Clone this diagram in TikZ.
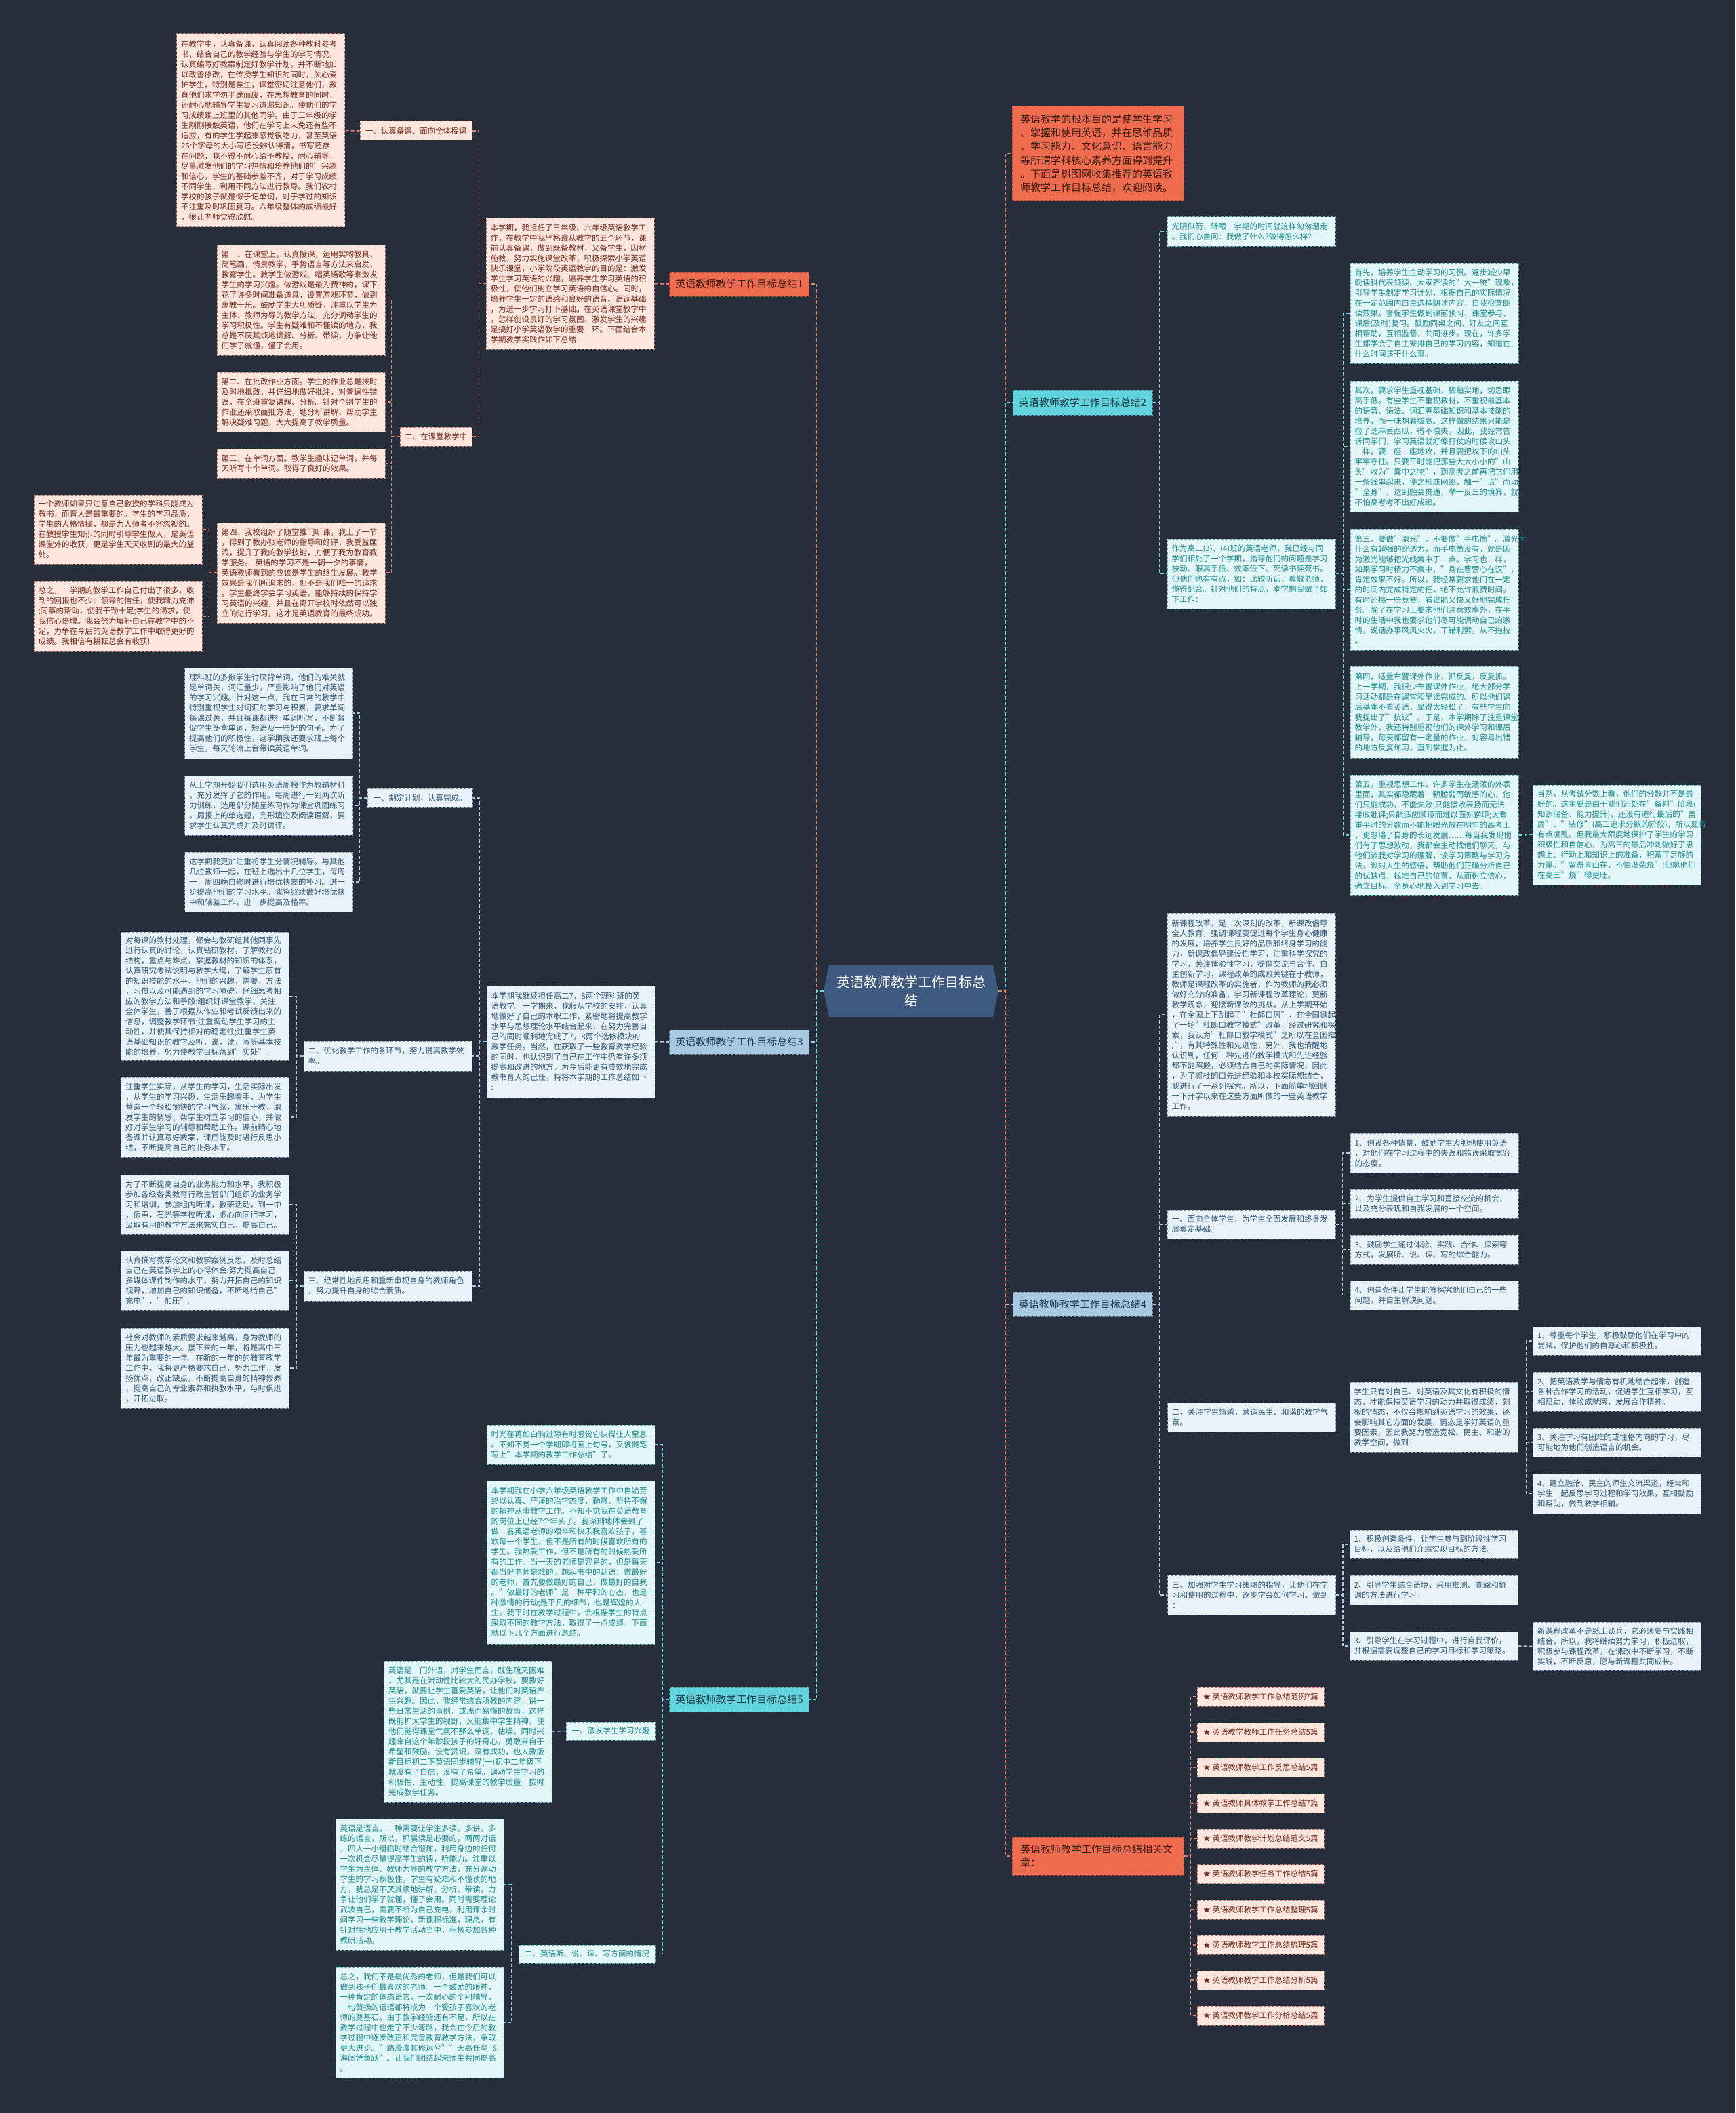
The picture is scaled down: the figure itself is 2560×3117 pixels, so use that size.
\documentclass[tikz,border=0pt]{standalone}
\usepackage{fontspec}
\setmainfont{Noto Sans CJK SC}
\definecolor{bgc}{HTML}{262D3B}
\definecolor{coral}{HTML}{EF6D4E}
\definecolor{coraltext}{HTML}{3A1A12}
\definecolor{pinkfill}{HTML}{FDE6DD}
\definecolor{pinkdraw}{HTML}{B8786A}
\definecolor{pinktext}{HTML}{762C1E}
\definecolor{bluelab}{HTML}{A9C8E2}
\definecolor{bluelabtext}{HTML}{1F3A52}
\definecolor{bluefill}{HTML}{EAF2F9}
\definecolor{bluedraw}{HTML}{7E9AB2}
\definecolor{bluetext}{HTML}{2F5878}
\definecolor{cyanlab}{HTML}{62D4DE}
\definecolor{cyanlabtext}{HTML}{1C3C44}
\definecolor{cyanfill}{HTML}{E3F7F8}
\definecolor{cyandraw}{HTML}{6AAEB6}
\definecolor{cyantext}{HTML}{1C8890}
\definecolor{rootfill}{HTML}{3E5A80}
\definecolor{lcoralc}{HTML}{E2806A}
\definecolor{lbluec}{HTML}{A9C8E2}
\definecolor{lcyanc}{HTML}{6FD6E0}
\begin{document}
\begin{tikzpicture}[x=1pt,y=-1pt,
  base/.style={draw, line width=1pt, dash pattern=on 4pt off 2pt, inner xsep=6.5pt, inner ysep=6pt, font=\fontsize{11.5pt}{15pt}\selectfont},
  box/.style={base, align=left, text width=235pt},
  tag/.style={base, align=center},
  pbox/.style={box, fill=pinkfill, draw=pinkdraw, text=pinktext},
  ptag/.style={tag, fill=pinkfill, draw=pinkdraw, text=pinktext},
  bbox/.style={box, fill=bluefill, draw=bluedraw, text=bluetext},
  btag/.style={tag, fill=bluefill, draw=bluedraw, text=bluetext},
  cbox/.style={box, fill=cyanfill, draw=cyandraw, text=cyantext},
  ctag/.style={tag, fill=cyanfill, draw=cyandraw, text=cyantext},
  branch/.style={draw, line width=1pt, dash pattern=on 4pt off 2pt, align=center, minimum width=206pt, minimum height=36pt, inner sep=4pt, font=\fontsize{15pt}{20pt}\selectfont},
  brcoral/.style={branch, fill=coral, draw=coral!70!black, text=coraltext},
  brblue/.style={branch, fill=bluelab, draw=bluelab!70!black, text=bluelabtext},
  brcyan/.style={branch, fill=cyanlab, draw=cyanlab!70!black, text=cyanlabtext},
  bigcoral/.style={draw=coral!70!black, line width=1pt, dash pattern=on 4pt off 2pt, fill=coral, text=coraltext, align=left, text width=229pt, inner xsep=12pt, inner ysep=8pt, font=\fontsize{15pt}{20.3pt}\selectfont},
  rootnode/.style={align=center, text=white, inner sep=0pt, minimum width=258pt, minimum height=77pt, font=\fontsize{20pt}{27pt}\selectfont},
  lk/.style={line width=1.6pt, dash pattern=on 5pt off 3pt},
  lcoral/.style={lk, draw=lcoralc},
  lblue/.style={lk, draw=lbluec},
  lcyan/.style={lk, draw=lcyanc}
]
\fill[bgc] (0,0) rectangle (2560,3117);
\useasboundingbox (0,0) rectangle (2560,3117);

% ---------- root ----------
\fill[rootfill] (1215,1462) -- (1223,1424) -- (1465,1424) -- (1473,1462) -- (1465,1500) -- (1223,1500) -- cycle;
\node[rootnode] (root) at (1344,1462) {英语教师教学工作目标总\\结};

% ---------- branch labels ----------
\node[brcoral] (b1) at (1090.5,419) {英语教师教学工作目标总结1};
\node[brblue] (b3) at (1090.5,1537) {英语教师教学工作目标总结3};
\node[brcyan] (b5) at (1090.5,2507) {英语教师教学工作目标总结5};
\node[brcyan] (b2) at (1597,594) {英语教师教学工作目标总结2};
\node[brblue] (b4) at (1597,1924) {英语教师教学工作目标总结4};
\node[bigcoral, minimum height=139pt] (intro) at (1619.5,226.5) {英语教学的根本目的是使学生学习\\、掌握和使用英语，并在思维品质\\、学习能力、文化意识、语言能力\\等所谓学科核心素养方面得到提升\\。下面是树图网收集推荐的英语教\\师教学工作目标总结，欢迎阅读。};
\node[bigcoral, minimum height=56pt] (rel) at (1619.5,2738) {英语教师教学工作目标总结相关文\\章：};

% ---------- branch 1 ----------
\node[pbox, minimum height=193pt] (b1main) at (841,418.5) {本学期，我担任了三年级、六年级英语教学工\\作，在教学中我严格遵从教学的五个环节，课\\前认真备课，做到既备教材，又备学生，因材\\施教，努力实施课堂改革，积极探索小学英语\\快乐课堂，小学阶段英语教学的目的是：激发\\学生学习英语的兴趣，培养学生学习英语的积\\极性，使他们树立学习英语的自信心。同时，\\培养学生一定的语感和良好的语音、语调基础\\，为进一步学习打下基础。在英语课堂教学中\\，怎样创设良好的学习氛围、激发学生的兴趣\\是搞好小学英语教学的重要一环。下面结合本\\学期教学实践作如下总结：};
\node[ptag, minimum width=165pt, minimum height=28pt] (b1l1) at (613.5,193) {一、认真备课、面向全体授课};
\node[pbox, minimum height=285pt] (b1t1) at (384.5,192.5) {在教学中，认真备课，认真阅读各种教科参考\\书，结合自己的教学经验与学生的学习情况，\\认真编写好教案制定好教学计划，并不断地加\\以改善修改，在传授学生知识的同时，关心爱\\护学生，特别是差生，课堂密切注意他们，教\\育他们求学勿半途而废，在思想教育的同时，\\还耐心地辅导学生复习遗漏知识。使他们的学\\习成绩跟上班里的其他同学。由于三年级的学\\生刚刚接触英语，他们在学习上未免还有些不\\适应，有的学生学起来感觉很吃力，甚至英语\\26个字母的大小写还没辨认得清，书写还存\\在问题，我不得不耐心给予教授，耐心辅导，\\尽量激发他们的学习热情和培养他们的'兴趣\\和信心，学生的基础参差不齐，对于学习成绩\\不同学生，利用不同方法进行教导。我们农村\\学校的孩子就是懒于记单词，对于学过的知识\\不注重及时巩固复习。六年级整体的成绩最好\\，很让老师觉得欣慰。};
\node[ptag, minimum width=106pt, minimum height=28pt] (b1l2) at (643,644) {二、在课堂教学中};
\node[pbox, minimum height=163pt] (b1d1) at (444,442.5) {第一、在课堂上，认真授课，运用实物教具、\\简笔画，情景教学、手势语言等方法来启发、\\教育学生。教学生做游戏、唱英语歌等来激发\\学生的学习兴趣。做游戏是最为费神的，课下\\花了许多时间准备道具，设置游戏环节，做到\\寓教于乐。鼓励学生大胆质疑，注重以学生为\\主体、教师为导的教学方法，充分调动学生的\\学习积极性。学生有疑难和不懂读的地方，我\\总是不厌其烦地讲解、分析、带读，力争让他\\们学了就懂，懂了会用。};
\node[pbox, minimum height=88pt] (b1d2) at (444,593) {第二、在批改作业方面。学生的作业总是按时\\及时地批改，并详细地做好批注，对普遍性错\\误，在全班重复讲解、分析。针对个别学生的\\作业还采取面批方法，地分析讲解、帮助学生\\解决疑难习题，大大提高了教学质量。};
\node[pbox, minimum height=43pt] (b1d3) at (444,683.5) {第三，在单词方面。教学生趣味记单词，并每\\天听写十个单词。取得了良好的效果。};
\node[pbox, minimum height=148pt] (b1d4) at (444,845) {第四、我校组织了随堂推门听课，我上了一节\\，得到了教办张老师的指导和好评，我受益匪\\浅，提升了我的教学技能，方便了我为教育教\\学服务。 英语的学习不是一朝一夕的事情，\\英语教师看到的应该是学生的终生发展。教学\\效果是我们所追求的，但不是我们唯一的追求\\。学生最终学会学习英语，能够持续的保持学\\习英语的兴趣，并且在离开学校时依然可以独\\立的进行学习，这才是英语教育的最终成功。};
\node[pbox, minimum height=102pt] (b1e1) at (174,781) {一个教师如果只注意自己教授的学科只能成为\\教书，而育人是最重要的。学生的学习品质，\\学生的人格情操，都是为人师者不容忽视的。\\在教授学生知识的同时引导学生做人，是英语\\课堂外的收获，更是学生天天收到的最大的益\\处。};
\node[pbox, minimum height=104pt] (b1e2) at (174,909) {总之，一学期的教学工作自己付出了很多，收\\到的回报也不少：领导的信任，使我精力充沛\\;同事的帮助，使我干劲十足;学生的渴求，使\\我信心倍增。我会努力填补自己在教学中的不\\足，力争在今后的英语教学工作中取得更好的\\成绩。我相信有耕耘总会有收获!};

% ---------- branch 3 ----------
\node[bbox, minimum height=165pt] (b3main) at (842,1536.5) {本学期我继续担任高二7，8两个理科班的英\\语教学。一学期来，我服从学校的安排，认真\\地做好了自己的本职工作，紧密地将提高教学\\水平与思想理论水平结合起来，在努力完善自\\己的同时顺利地完成了7，8两个选修模块的\\教学任务。当然，在获取了一些教育教学经验\\的同时，也认识到了自己在工作中仍有许多须\\提高和改进的地方。为今后能更有成效地完成\\教书育人的己任，特将本学期的工作总结如下\\:};
\node[btag, minimum width=155pt, minimum height=28pt] (b3l1) at (619.5,1177) {一、制定计划，认真完成。};
\node[bbox, minimum height=134pt] (b3a) at (396.5,1052) {理科班的多数学生讨厌背单词，他们的难关就\\是单词关，词汇量少，严重影响了他们对英语\\的学习兴趣。针对这一点，我在日常的教学中\\特别重视学生对词汇的学习与积累，要求单词\\每课过关，并且每课都进行单词听写，不断督\\促学生多背单词，短语及一些好的句子。为了\\提高他们的积极性，这学期我还要求班上每个\\学生，每天轮流上台带读英语单词。};
\node[bbox, minimum height=88pt] (b3b) at (396.5,1188) {从上学期开始我们选用英语周报作为教辅材料\\，充分发挥了它的作用。每周进行一到两次听\\力训练，选用部分随堂练习作为课堂巩固练习\\。周报上的单选题，完形填空及阅读理解，要\\求学生认真完成并及时讲评。};
\node[bbox, minimum height=88pt] (b3c) at (396.5,1301) {这学期我更加注重将学生分情况辅导。与其他\\几位教师一起，在班上选出十几位学生，每周\\一，周四晚自修时进行培优扶差的补习。进一\\步提高他们的学习水平。我将继续做好培优扶\\中和辅差工作，进一步提高及格率。};
\node[bbox, minimum height=44pt] (b3l2) at (572,1558) {二、优化教学工作的各环节，努力提高教学效\\率。};
\node[bbox, minimum height=189pt] (b3d) at (302.5,1469.5) {对每课的教材处理，都会与教研组其他同事先\\进行认真的讨论，认真钻研教材，了解教材的\\结构，重点与难点，掌握教材的知识的体系，\\认真研究考试说明与教学大纲，了解学生原有\\的知识技能的水平，他们的兴趣，需要，方法\\，习惯以及可能遇到的学习障碍，仔细思考相\\应的教学方法和手段;组织好课堂教学，关注\\全体学生，善于根据从作业和考试反馈出来的\\信息，调整教学环节;注重调动学生学习的主\\动性，并使其保持相对的稳定性;注重学生英\\语基础知识的教学及听，说，读，写等基本技\\能的培养，努力使教学目标落到"实处"。};
\node[bbox, minimum height=118pt] (b3e) at (302.5,1648) {注重学生实际，从学生的学习，生活实际出发\\，从学生的学习兴趣，生活乐趣着手，为学生\\营造一个轻松愉快的学习气氛，寓乐于教，激\\发学生的情感，帮学生树立学习的信心，并做\\好对学生学习的辅导和帮助工作。课前精心地\\备课并认真写好教案，课后能及时进行反思小\\结，不断提高自己的业务水平。};
\node[bbox, minimum height=44pt] (b3l3) at (572,1897) {三、经常性地反思和重新审视自身的教师角色\\，努力提升自身的综合素质。};
\node[bbox, minimum height=88pt] (b3f) at (302.5,1777) {为了不断提高自身的业务能力和水平，我积极\\参加各级各类教育行政主管部门组织的业务学\\习和培训，参加组内听课，教研活动，到一中\\，侨声，石光等学校听课，虚心向同行学习，\\汲取有用的教学方法来充实自己，提高自己。};
\node[bbox, minimum height=88pt] (b3g) at (302.5,1889) {认真撰写教学论文和教学案例反思，及时总结\\自己在英语教学上的心得体会;努力提高自己\\多媒体课件制作的水平，努力开拓自己的知识\\视野，增加自己的知识储备，不断地给自己"\\充电"，"加压"。};
\node[bbox, minimum height=118pt] (b3h) at (302.5,2018) {社会对教师的素质要求越来越高，身为教师的\\压力也越来越大。接下来的一年，将是高中三\\年最为重要的一年。在新的一年的的教育教学\\工作中，我将更严格要求自己，努力工作，发\\扬优点，改正缺点，不断提高自身的精神修养\\，提高自己的专业素养和执教水平，与时俱进\\，开拓进取。};

% ---------- branch 5 ----------
\node[cbox, minimum height=58pt] (b5a) at (842,2131) {时光荏苒如白驹过隙有时感觉它快得让人窒息\\。不知不觉一个学期即将画上句号，又该提笔\\写上"本学期的教学工作总结"了。};
\node[cbox, minimum height=241pt] (b5b) at (842,2304.5) {本学期我在小学六年级英语教学工作中自始至\\终以认真、严谨的治学态度，勤恳、坚持不懈\\的精神从事教学工作。不知不觉我在英语教育\\的岗位上已经7个年头了。我深刻地体会到了\\做一名英语老师的艰辛和快乐我喜欢孩子，喜\\欢每一个学生，但不是所有的时候喜欢所有的\\学生。我热爱工作，但不是所有的时候热爱所\\有的工作。当一天的老师是容易的，但是每天\\都当好老师是难的。想起书中的话语：做最好\\的老师，首先要做最好的自己，做最好的自我\\。"做最好的老师"是一种平和的心态，也是一\\种激情的行动;是平凡的细节，也是辉煌的人\\生。我平时在教学过程中，会根据学生的特点\\采取不同的教学方法，取得了一点成绩。下面\\就以下几个方面进行总结。};
\node[ctag, minimum width=132pt, minimum height=27pt] (b5l1) at (901,2553.5) {一、激发学生学习兴趣};
\node[cbox, minimum height=208pt] (b5c) at (690.5,2554) {英语是一门外语，对学生而言，既生疏又困难\\，尤其是在流动性比较大的民办学校，要教好\\英语，就要让学生喜爱英语，让他们对英语产\\生兴趣。因此，我经常结合所教的内容，讲一\\些日常生活的事例，或浅而易懂的故事，这样\\既能扩大学生的视野，又能集中学生精神，使\\他们觉得课堂气氛不那么单调、枯燥。同时兴\\趣来自这个年龄段孩子的好奇心，勇敢来自于\\希望和鼓励。没有赏识，没有成功，也人教版\\新目标初二下英语同步辅导(一)初中二年级下\\就没有了自信，没有了希望。调动学生学习的\\积极性、主动性，提高课堂的教学质量，按时\\完成教学任务。};
\node[ctag, minimum width=202pt, minimum height=27pt] (b5l2) at (866,2882.5) {二、英语听、说、读、写方面的情况};
\node[cbox, minimum height=194pt] (b5d) at (619,2780) {英语是语言。一种需要让学生多读，多讲，多\\练的语言，所以，抓晨读是必要的，两两对话\\，四人一小组临时结合锻炼，利用身边的任何\\一次机会尽量提高学生的读，听能力。注重以\\学生为主体、教师为导的教学方法，充分调动\\学生的学习积极性。学生有疑难和不懂读的地\\方，我总是不厌其烦地讲解、分析、带读，力\\争让他们学了就懂，懂了会用。同时需要理论\\武装自己，需要不断为自己充电，利用课余时\\间学习一些教学理论，新课程标准，理念，有\\针对性地应用于教学活动当中，积极参加各种\\教研活动。};
\node[cbox, minimum height=163pt] (b5e) at (619,2983.5) {总之，我们不是最优秀的老师，但是我们可以\\做到孩子们最喜欢的老师。一个鼓励的眼神，\\一种肯定的体态语言，一次耐心的个别辅导，\\一句赞扬的话语都将成为一个受孩子喜欢的老\\师的奠基石。由于教学经验还有不足，所以在\\教学过程中也走了不少弯路，我会在今后的教\\学过程中逐步改正和完善教育教学方法，争取\\更大进步。"路漫漫其修远兮""天高任鸟飞，\\海阔凭鱼跃"。让我们团结起来师生共同提高\\。};

% ---------- branch 2 ----------
\node[cbox, minimum height=43pt] (b2a) at (1846,341.5) {光阴似箭，转眼一学期的时间就这样匆匆溜走\\。我扪心自问：我做了什么?做得怎么样?};
\node[cbox, minimum height=103pt] (b2b) at (1846,846.5) {作为高二(3)、(4)班的英语老师，我已经与同\\学们相处了一个学期，指导他们的问题是学习\\被动、眼高手低、效率低下、死读书读死书。\\但他们也有有点，如：比较听话，尊敬老师，\\懂得配合。针对他们的特点，本学期我做了如\\下工作：};
\node[cbox, minimum height=148pt] (b2c) at (2116,462) {首先，培养学生主动学习的习惯。逐步减少早\\晚读科代表领读、大家齐读的"大一统"现象，\\引导学生制定学习计划，根据自己的实际情况\\在一定范围内自主选择朗读内容，自我检查朗\\读效果。督促学生做到课前预习、课堂参与、\\课后(及时)复习。鼓励同桌之间、好友之间互\\相帮助，互相监督，共同进步。现在，许多学\\生都学会了自主安排自己的学习内容，知道在\\什么时间该干什么事。};
\node[cbox, minimum height=193pt] (b2d) at (2116,658.5) {其次，要求学生重视基础，脚踏实地，切忌眼\\高手低。有些学生不重视教材，不重视最基本\\的语音、语法、词汇等基础知识和基本技能的\\培养，而一味想着拔高。这样做的结果只能是\\捡了芝麻丢西瓜，得不偿失。因此，我经常告\\诉同学们，学习英语就好像打仗的时候攻山头\\一样，要一座一座地攻，并且要把攻下的山头\\牢牢守住。只要平时能把那些大大小小的"山\\头"收为"囊中之物"，到高考之前再把它们用\\一条线串起来，使之形成网络，触一"点"而动\\"全身"，达到融会贯通，举一反三的境界，就\\不怕高考考不出好成绩。};
\node[cbox, minimum height=178pt] (b2e) at (2116,870) {第三，要做"激光"，不要做"手电筒"。激光为\\什么有超强的穿透力，而手电筒没有，就是因\\为激光能够把光线集中于一点。学习也一样，\\如果学习时精力不集中，"身在曹营心在汉"，\\肯定效果不好。所以，我经常要求他们在一定\\的时间内完成特定的任，绝不允许浪费时间。\\有时还搞一些竞赛，看谁能又快又好地完成任\\务。除了在学习上要求他们注意效率外，在平\\时的生活中我也要求他们尽可能调动自己的激\\情，说话办事风风火火，干错利索，从不拖拉\\。};
\node[cbox, minimum height=135pt] (b2f) at (2116,1050.5) {第四，适量布置课外作业，抓反复，反复抓。\\上一学期，我很少布置课外作业，绝大部分学\\习活动都是在课堂和早读完成的。所以他们课\\后基本不看英语，显得太轻松了，有些学生向\\我提出了"抗议"。于是，本学期除了注重课堂\\教学外，我还特别重视他们的课外学习和课后\\辅导，每天都留有一定量的作业，对容易出错\\的地方反复练习，直到掌握为止。};
\node[cbox, minimum height=178pt] (b2g) at (2116,1232) {第五，重视思想工作。许多学生在活泼的外表\\里面，其实都隐藏着一颗脆弱而敏感的心，他\\们只能成功，不能失败;只能接收表扬而无法\\接收批评;只能适应顺境而难以面对逆境;太看\\重平时的分数而不能把眼光放在明年的高考上\\，更忽略了自身的长远发展……每当我发现他\\们有了思想波动，我都会主动找他们聊天，与\\他们谈我对学习的理解，谈学习策略与学习方\\法，谈对人生的感悟，帮助他们正确分析自己\\的优缺点，找准自己的位置，从而树立信心，\\确立目标，全身心地投入到学习中去。};
\node[cbox, minimum height=147pt] (b2h) at (2385.5,1231.5) {当然，从考试分数上看，他们的分数并不是最\\好的。这主要是由于我们还处在"备料"阶段(\\知识储备、能力提升)，还没有进行最后的"盖\\房"、"装修"(高三追求分数的阶段)，所以显得\\有点凌乱。但我最大限度地保护了学生的学习\\积极性和自信心，为高三的最后冲刺做好了思\\想上、行动上和知识上的准备，积蓄了足够的\\力量。"留得青山在，不怕没柴烧"!但愿他们\\在高三"烧"得更旺。};

% ---------- branch 4 ----------
\node[bbox, minimum height=300pt] (b4a) at (1846,1497) {新课程改革，是一次深刻的改革，新课改倡导\\全人教育，强调课程要促进每个学生身心健康\\的发展，培养学生良好的品质和终身学习的能\\力，新课改倡导建设性学习，注重科学探究的\\学习，关注体验性学习，提倡交流与合作、自\\主创新学习，课程改革的成败关键在于教师，\\教师是课程改革的实施者，作为教师的我必须\\做好充分的准备，学习新课程改革理论，更新\\教学观念，迎接新课改的挑战。从上学期开始\\，在全国上下刮起了"杜郎口风"，在全国掀起\\了一场"杜郎口教学模式"改革，经过研究和探\\索，我认为"杜郎口教学模式"之所以在全国推\\广，有其特殊性和先进性，另外，我也清醒地\\认识到，任何一种先进的教学模式和先进经验\\都不能照搬，必须结合自己的实际情况，因此\\，为了将杜朗口先进经验和本校实际想结合，\\我进行了一系列探索。所以，下面简单地回顾\\一下开学以来在这些方面所做的一些英语教学\\工作。};
\node[bbox, minimum height=42pt] (b4l1) at (1846,1806) {一、面向全体学生，为学生全面发展和终身发\\展奠定基础。};
\node[bbox, minimum height=58pt] (b4i1) at (2116,1701) {1、创设各种情景，鼓励学生大胆地使用英语\\，对他们在学习过程中的失误和错误采取宽容\\的态度。};
\node[bbox, minimum height=43pt] (b4i2) at (2116,1775.5) {2、为学生提供自主学习和直接交流的机会，\\以及充分表现和自我发展的一个空间。};
\node[bbox, minimum height=43pt] (b4i3) at (2116,1843.5) {3、鼓励学生通过体验、实践、合作、探索等\\方式，发展听、说、读、写的综合能力。};
\node[bbox, minimum height=43pt] (b4i4) at (2116,1910.5) {4、创造条件让学生能够探究他们自己的一些\\问题，并自主解决问题。};
\node[bbox, minimum height=43pt] (b4l2) at (1846.5,2090.5) {二、关注学生情感，营造民主、和谐的教学气\\氛。};
\node[bbox, minimum height=103pt] (b4m) at (2115,2090.5) {学生只有对自己、对英语及其文化有积极的情\\态，才能保持英语学习的动力并取得成绩，刻\\板的情态，不仅会影响到英语学习的效果，还\\会影响其它方面的发展，情态是学好英语的重\\要因素，因此我努力营造宽松、民主、和谐的\\教学空间，做到：};
\node[bbox, minimum height=42pt] (b4j1) at (2385.5,1978) {1、尊重每个学生，积极鼓励他们在学习中的\\尝试，保护他们的自尊心和积极性。};
\node[bbox, minimum height=58pt] (b4j2) at (2385.5,2053) {2、把英语教学与情态有机地结合起来，创造\\各种合作学习的活动，促进学生互相学习，互\\相帮助，体验成就感，发展合作精神。};
\node[bbox, minimum height=42pt] (b4j3) at (2385.5,2128) {3、关注学习有困难的或性格内向的学习，尽\\可能地为他们创造语言的机会。};
\node[bbox, minimum height=59pt] (b4j4) at (2385.5,2203.5) {4、建立融洽、民主的师生交流渠道，经常和\\学生一起反思学习过程和学习效果，互相鼓励\\和帮助，做到教学相辅。};
\node[bbox, minimum height=58pt] (b4l3) at (1846.5,2353) {三、加强对学生学习策略的指导，让他们在学\\习和使用的过程中，逐步学会如何学习，做到\\：};
\node[bbox, minimum height=42pt] (b4k1) at (2115,2278) {1、积极创造条件，让学生参与到阶段性学习\\目标，以及给他们介绍实现目标的方法。};
\node[bbox, minimum height=43pt] (b4k2) at (2115,2345.5) {2、引导学生结合语境，采用推测、查阅和协\\调的方法进行学习。};
\node[bbox, minimum height=42pt] (b4k3) at (2115,2428) {3、引导学生在学习过程中，进行自我评价，\\并根据需要调整自己的学习目标和学习策略。};
\node[bbox, minimum height=71pt] (b4n) at (2385.5,2428.5) {新课程改革不是纸上谈兵，它必须要与实践相\\结合，所以，我将继续努力学习，积极进取，\\积极参与课程改革，在课改中不断学习，不断\\实践，不断反思，愿与新课程共同成长。};

% ---------- related articles ----------
\node[ptag, minimum width=187pt, minimum height=28pt] (r1) at (1859.5,2503) {★ 英语教师教学工作总结范例7篇};
\node[ptag, minimum width=187pt, minimum height=28pt] (r2) at (1859.5,2555) {★ 英语教学教师工作任务总结5篇};
\node[ptag, minimum width=187pt, minimum height=28pt] (r3) at (1859.5,2607.5) {★ 英语教师教学工作反思总结5篇};
\node[ptag, minimum width=187pt, minimum height=28pt] (r4) at (1859.5,2660) {★ 英语教师具体教学工作总结7篇};
\node[ptag, minimum width=187pt, minimum height=28pt] (r5) at (1859.5,2712) {★ 英语教师教学计划总结范文5篇};
\node[ptag, minimum width=187pt, minimum height=28pt] (r6) at (1859.5,2764.5) {★ 英语教师教学任务工作总结5篇};
\node[ptag, minimum width=187pt, minimum height=28pt] (r7) at (1859.5,2817) {★ 英语教师教学工作总结整理5篇};
\node[ptag, minimum width=187pt, minimum height=28pt] (r8) at (1859.5,2869) {★ 英语教师教学工作总结梳理5篇};
\node[ptag, minimum width=187pt, minimum height=28pt] (r9) at (1859.5,2921) {★ 英语教师教学工作总结分析5篇};
\node[ptag, minimum width=187pt, minimum height=28pt] (r10) at (1859.5,2973) {★ 英语教师教学工作分析总结5篇};

% ---------- connectors ----------
\draw[lcoral] (root.west) -- ++(-10,0) |- (b1.east);
\draw[lblue] (root.west) -- ++(-10,0) |- (b3.east);
\draw[lcyan] (root.west) -- ++(-10,0) |- (b5.east);
\draw[lcoral] (root.east) -- ++(10,0) |- (intro.west);
\draw[lcyan] (root.east) -- ++(10,0) |- (b2.west);
\draw[lblue] (root.east) -- ++(10,0) |- (b4.west);
\draw[lcoral] (root.east) -- ++(10,0) |- (rel.west);
% branch 1
\draw[lcoral] (b1.west) -- (b1main.east);
\draw[lcoral] (b1main.west) -- ++(-10,0) |- (b1l1.east);
\draw[lcoral] (b1main.west) -- ++(-10,0) |- (b1l2.east);
\draw[lcoral] (b1l1.west) -- (b1t1.east);
\foreach \n in {b1d1,b1d2,b1d3,b1d4}
  \draw[lcoral] (b1l2.west) -- ++(-12,0) |- (\n.east);
\foreach \n in {b1e1,b1e2}
  \draw[lcoral] (b1d4.west) -- ++(-11,0) |- (\n.east);
% branch 3
\draw[lblue] (b3.west) -- (b3main.east);
\foreach \n in {b3l1,b3l2,b3l3}
  \draw[lblue] (b3main.west) -- ++(-10,0) |- (\n.east);
\foreach \n in {b3a,b3b,b3c}
  \draw[lblue] (b3l1.west) -- ++(-11,0) |- (\n.east);
\foreach \n in {b3d,b3e}
  \draw[lblue] (b3l2.west) -- ++(-10,0) |- (\n.east);
\foreach \n in {b3f,b3g,b3h}
  \draw[lblue] (b3l3.west) -- ++(-10,0) |- (\n.east);
% branch 5
\foreach \n in {b5a,b5b,b5l1,b5l2}
  \draw[lcyan] (b5.west) -- ++(-10,0) |- (\n.east);
\draw[lcyan] (b5l1.west) -- (b5c.east);
\foreach \n in {b5d,b5e}
  \draw[lcyan] (b5l2.west) -- ++(-10,0) |- (\n.east);
% branch 2
\foreach \n in {b2a,b2b}
  \draw[lcyan] (b2.east) -- ++(10,0) |- (\n.west);
\foreach \n in {b2c,b2d,b2e,b2f,b2g}
  \draw[lcyan] (b2b.east) -- ++(11,0) |- (\n.west);
\draw[lcyan] (b2g.east) -- ++(10,0) |- (b2h.west);
% branch 4
\foreach \n in {b4a,b4l1,b4l2,b4l3}
  \draw[lblue] (b4.east) -- ++(10,0) |- (\n.west);
\foreach \n in {b4i1,b4i2,b4i3,b4i4}
  \draw[lblue] (b4l1.east) -- ++(10,0) |- (\n.west);
\draw[lblue] (b4l2.east) -- (b4m.west);
\foreach \n in {b4j1,b4j2,b4j3,b4j4}
  \draw[lblue] (b4m.east) -- ++(12,0) |- (\n.west);
\foreach \n in {b4k1,b4k2,b4k3}
  \draw[lblue] (b4l3.east) -- ++(10,0) |- (\n.west);
\draw[lblue] (b4k3.east) -- (b4n.west);
% related
\foreach \n in {r1,r2,r3,r4,r5,r6,r7,r8,r9,r10}
  \draw[lcoral] (rel.east) -- ++(10,0) |- (\n.west);
\end{tikzpicture}
\end{document}
